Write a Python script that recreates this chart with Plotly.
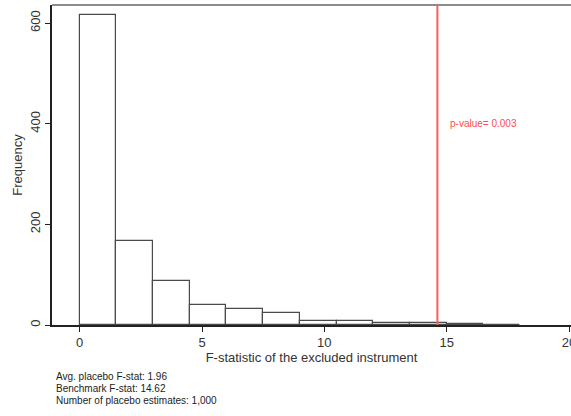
import plotly.graph_objects as go

bin_left = [0, 1.5, 3, 4.5, 6, 7.5, 9, 10.5, 12, 13.5, 15, 16.5]
bin_width = 1.5
counts = [617, 166, 88, 39, 31, 24, 8, 8, 4, 4, 2, 1]
benchmark = 14.62
p_value_text = "p-value= 0.003"
notes = ["Avg. placebo F-stat: 1.96", "Benchmark F-stat: 14.62", "Number of placebo estimates: 1,000"]
x_ticks = [0, 5, 10, 15, 20]
y_ticks = [0, 200, 400, 600]

FONT = "Arial, Liberation Sans, sans-serif"

fig = go.Figure()
fig.add_trace(go.Bar(
    x=bin_left, y=counts, width=bin_width, offset=0,
    marker=dict(color="white", line=dict(color="#4a4a4a", width=1.2)),
    showlegend=False, hoverinfo="skip",
))

fig.add_shape(type="line", xref="x", yref="paper", x0=benchmark, x1=benchmark, y0=0, y1=1,
              line=dict(color="#ff5a5a", width=2))
# top border
fig.add_shape(type="line", xref="paper", yref="paper", x0=0, x1=1, y0=1, y1=1,
              line=dict(color="#8c8c8c", width=2))

fig.add_annotation(x=benchmark + 0.42, y=400, xref="x", yref="y", text=p_value_text,
                   showarrow=False, xanchor="left", yanchor="middle",
                   font=dict(family=FONT, size=10, color="#ff4d4d"))

for i, t in enumerate(notes):
    fig.add_annotation(x=(54 - 52) / 519, y=-0.1615 - i * 0.0378, xref="paper", yref="paper",
                       text=t, showarrow=False, xanchor="left", yanchor="middle",
                       font=dict(family=FONT, size=10, color="#222"))

fig.update_layout(
    width=571, height=416,
    margin=dict(l=52, r=0, t=5, b=91, autoexpand=False),
    plot_bgcolor="white", paper_bgcolor="white",
    bargap=0,
    font=dict(family=FONT, color="#333"),
    xaxis=dict(range=[-1.13, 20.08], tickvals=x_ticks, ticks="outside", ticklen=5,
               tickcolor="#222", showgrid=False, zeroline=False, automargin=False,
               ticklabeloverflow="allow",
               showline=True, linecolor="#222", linewidth=1.5,
               tickfont=dict(size=13, color="#333"),
               title=dict(text="F-statistic of the excluded instrument", standoff=2,
                          font=dict(size=13, color="#333"))),
    yaxis=dict(range=[0, 636], tickvals=y_ticks, ticks="outside", ticklen=5,
               tickcolor="#222", tickangle=-90, showgrid=False, zeroline=False, automargin=False,
               showline=True, linecolor="#222", linewidth=1.5,
               tickfont=dict(size=13, color="#333"),
               title=dict(text="Frequency", standoff=2, font=dict(size=13, color="#333"))),
)

fig.write_html("out.html", config={"displayModeBar": False},
               post_script="document.body.style.margin='0';document.body.style.overflow='hidden';")
